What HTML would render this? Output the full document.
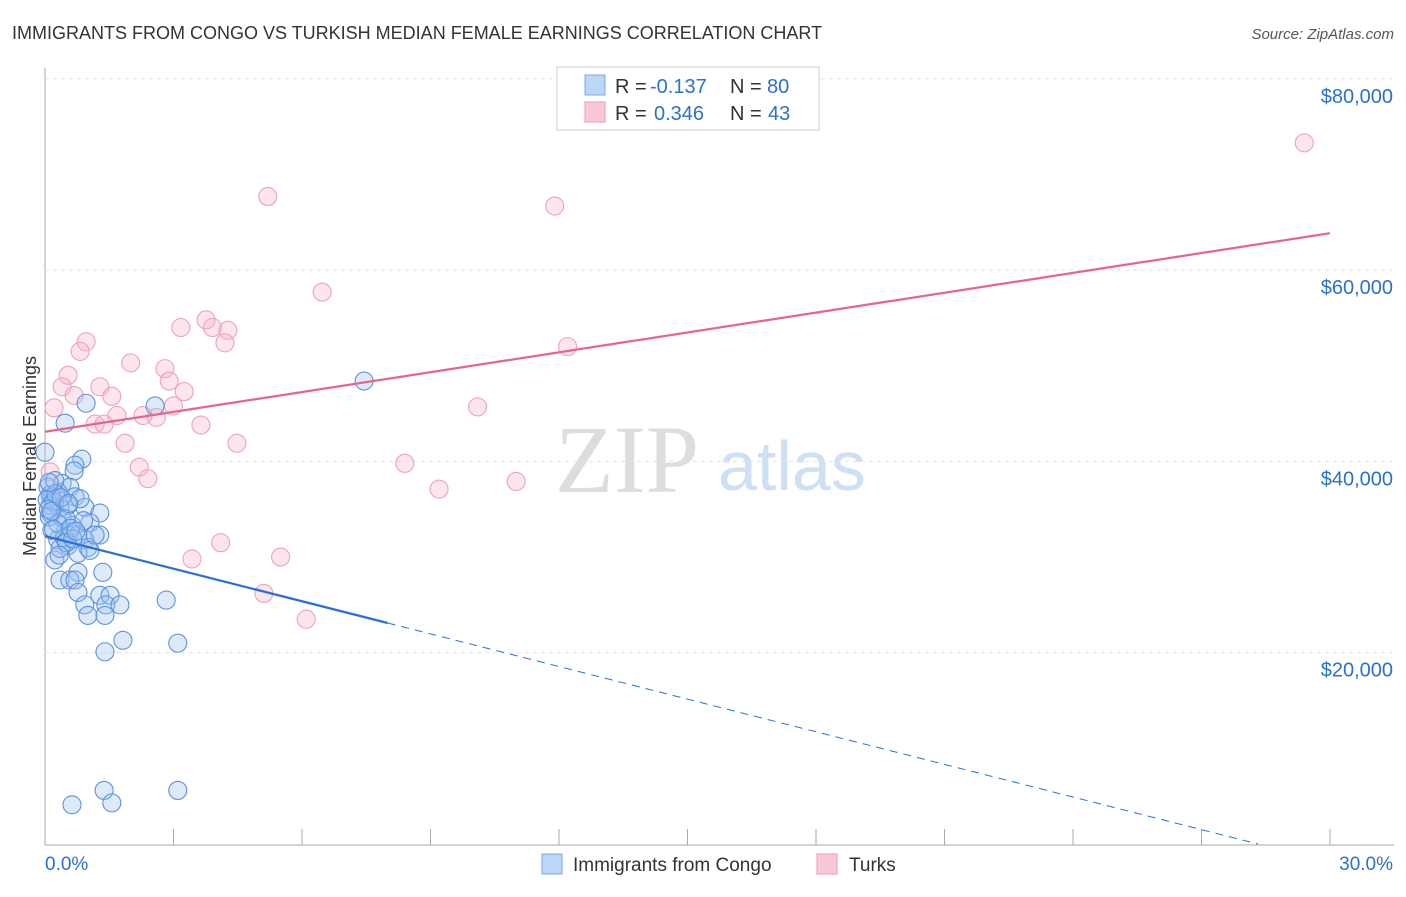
<!DOCTYPE html>
<html><head><meta charset="utf-8"><style>
body{margin:0;background:#fff;font-family:"Liberation Sans",sans-serif;}
#wrap{position:relative;width:1406px;height:892px;}
</style></head><body>
<div id="wrap">
<svg id="svg" width="1406" height="892">
<text x="12" y="39" font-size="18" fill="#333">IMMIGRANTS FROM CONGO VS TURKISH MEDIAN FEMALE EARNINGS CORRELATION CHART</text>
<text x="1394" y="39" font-size="15" fill="#555" font-style="italic" text-anchor="end">Source: ZipAtlas.com</text>
<text x="36" y="456" font-size="18" fill="#333" text-anchor="middle" transform="rotate(-90 36 456)">Median Female Earnings</text>
<text x="555" y="492" font-size="96" fill="#ddd" font-family="Liberation Serif,serif">ZIP</text>
<text x="718" y="490" font-size="70" fill="#cfe0f3">atlas</text>
<g id="grid"></g><g id="pts"></g><g id="lines"></g>
<g font-size="20">
<rect x="557" y="67" width="262" height="63" fill="#fff" stroke="#ccc"/>
<rect x="585" y="75" width="20" height="20" fill="#bcd6f7" stroke="#7aa8e6"/>
<text x="615" y="93" fill="#333">R =</text>
<text x="650" y="93" fill="#2b6fd4">-0.137</text>
<text x="730" y="93" fill="#333">N =</text>
<text x="767" y="93" fill="#2b6fd4">80</text>
<rect x="585" y="102" width="20" height="20" fill="#f9c8d6" stroke="#ec9ab3"/>
<text x="615" y="120" fill="#333">R =</text>
<text x="654" y="120" fill="#2b6fd4">0.346</text>
<text x="730" y="120" fill="#333">N =</text>
<text x="768" y="120" fill="#2b6fd4">43</text>
</g>
<g>
<rect x="542" y="854" width="20" height="20" fill="#bcd6f7" stroke="#7aa8e6"/>
<text x="573" y="871" font-size="19" fill="#333">Immigrants from Congo</text>
<rect x="817" y="854" width="20" height="20" fill="#f9c8d6" stroke="#ec9ab3"/>
<text x="849" y="871" font-size="19" fill="#333">Turks</text>
</g>
</svg></div>
<script>
const yTicks=[20000,40000,60000,80000];
const yTickLabels=["$20,000","$40,000","$60,000","$80,000"];
const blueX=[0,0.96,0.47,0.86,0.7,0.68,0.07,0.4,0.58,0.3,0.16,0.7,0.23,0.54,0.93,0.12,1.28,0.4,1.05,0.63,0.47,0.77,1.28,0.3,0.93,0.54,1.0,0.77,0.23,0.77,1.35,0.35,0.58,0.7,0.77,1.28,1.52,0.93,1.42,1.75,1.0,1.4,2.83,1.82,3.1,1.4,2.57,7.45,0.63,1.38,1.56,3.1,0.12,0.23,0.35,0.49,0.82,0.16,0.35,1.05,1.17,0.12,0.05,0.2,0.1,0.3,0.45,0.6,0.08,0.25,0.5,0.15,0.38,0.65,0.9,0.2,0.55,0.1,0.33,0.72];
const blueY=[40960,46080,44000,40230,39600,39000,37300,37700,37300,36800,36300,36300,35600,35400,35200,34600,34600,34100,33600,33300,32600,32300,32300,31800,31800,31200,31000,30400,29700,28400,28400,27600,27600,27600,26300,26000,26000,25000,25000,25000,23900,23900,25500,21300,21000,20100,45800,48400,4100,5600,4300,5600,36500,38000,35100,34000,36100,32800,30900,30700,32300,35400,36000,35800,34200,33500,32000,33000,35000,36600,31500,34800,36200,31900,33800,32900,35600,37800,30200,32700];
const pinkX=[29.4,5.2,11.9,6.47,3.76,3.17,3.91,4.27,4.2,0.96,0.82,12.2,2.0,2.8,0.54,1.28,2.9,0.4,3.25,0.68,1.56,0.21,10.1,3.0,2.29,2.6,1.68,1.17,1.38,3.64,1.87,4.48,8.4,2.2,2.4,11.0,9.2,0.12,4.1,5.5,3.43,5.11,6.1];
const pinkY=[73300,67700,66700,57700,54800,54000,54000,53700,52400,52500,51500,52000,50300,49700,49000,47800,48400,47800,47300,46900,46800,45600,45700,45800,44800,44600,44800,43900,43900,43800,41900,41900,39800,39400,38200,37900,37100,38900,31500,30000,29800,26200,23500];
const blueFit=[32200,-1137];
const pinkFit=[43100,692];
const NS="http://www.w3.org/2000/svg";
const X=v=>45+v/30*1285, Y=v=>844-v/20000*191.3;
function mk(t,a,p){const e=document.createElementNS(NS,t);for(const k in a)e.setAttribute(k,a[k]);p.appendChild(e);return e;}
const g=document.getElementById('grid');
let ax=mk('line',{x1:45,y1:68,x2:45,y2:845,stroke:'#aaa'},g);


let bx=mk('line',{x1:45,y1:845,x2:1394,y2:845,stroke:'#aaa'},g);


for(let i=1;i<=10;i++){const x=45+i*128.5;mk('line',{x1:x,y1:829,x2:x,y2:845,stroke:'#aaa'},g);}
yTicks.forEach((v,i)=>{
 const gl=mk('line',{x1:45,y1:Y(v),x2:1394,y2:Y(v),stroke:'#e2e2e2','stroke-dasharray':'4,4'},g);
 
 
 const t=mk('text',{x:1393,y:Y(v)+24,'font-size':20,fill:'#2b6fd4','text-anchor':'end'},g);t.textContent=yTickLabels[i];
 
 
});
let t0=mk('text',{x:45,y:870,'font-size':19,fill:'#2b6fd4'},g);t0.textContent='0.0%';


let t1=mk('text',{x:1393,y:870,'font-size':19,fill:'#2b6fd4','text-anchor':'end'},g);t1.textContent='30.0%';


const p=document.getElementById('pts');
pinkX.forEach((x,i)=>{const c=mk('circle',{cx:X(x),cy:Y(pinkY[i]),r:9,fill:'rgba(246,180,200,0.35)',stroke:'#eea2b9','stroke-width':1.1},p);
 
 });
blueX.forEach((x,i)=>{const c=mk('circle',{cx:X(x),cy:Y(blueY[i]),r:9,fill:'rgba(160,196,240,0.35)',stroke:'#5a92de','stroke-width':1.1},p);
 
 });
const l=document.getElementById('lines');
const f=(fit,x)=>fit[0]+fit[1]*x;
let pl=mk('line',{x1:X(0),y1:Y(f(pinkFit,0)),x2:X(30),y2:Y(f(pinkFit,30)),stroke:'#e8648e','stroke-width':2.2},l);


let b1=mk('line',{x1:X(0),y1:Y(f(blueFit,0)),x2:X(8),y2:Y(f(blueFit,8)),stroke:'#2b6fd4','stroke-width':2.2},l);


const xe=-blueFit[0]/blueFit[1];
let b2=mk('line',{x1:X(8),y1:Y(f(blueFit,8)),x2:X(xe),y2:Y(0),stroke:'#2b6fd4','stroke-width':1,'stroke-dasharray':'8,6'},l);


</script>
</body></html>
